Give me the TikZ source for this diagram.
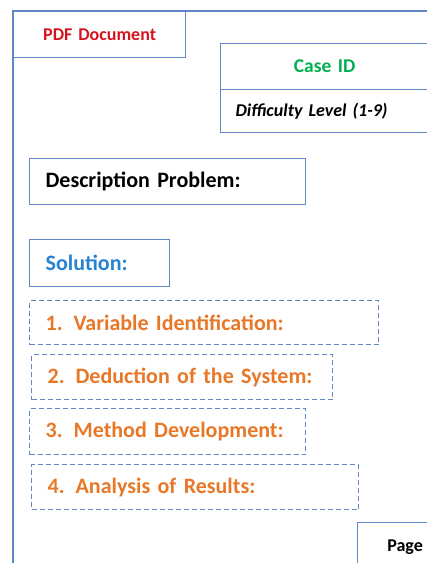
\documentclass[tikz,border=0pt]{standalone}
\usepackage{fontspec}
\setmainfont[WordSpace=0.7]{Carlito}
\usetikzlibrary{positioning}
\definecolor{frameblue}{RGB}{95,135,198}
\definecolor{pdfred}{RGB}{215,20,30}
\definecolor{casegreen}{RGB}{0,176,80}
\definecolor{solblue}{RGB}{40,130,210}
\definecolor{steporange}{RGB}{232,120,40}
\begin{document}
\begin{tikzpicture}[
        x=1pt, y=-1pt,
        box/.style={
            rectangle,
            anchor=north west,
            draw=frameblue,
            line width=1.2pt,
            inner xsep=16pt,
            inner ysep=0pt,
            align=left,
            font=\bfseries\fontsize{22}{26}\selectfont
        },
        stepbox/.style={
            box,
            dash pattern=on 5pt off 3pt,
            text=steporange
        },
        frame/.style={draw=frameblue, line width=1.2pt}
    ]

    \useasboundingbox (0,0) rectangle (427,563);
    \clip (0,0) rectangle (427,563);

    % Page outline
    \draw[frame] (13,575) -- (13,11) -- (440,11);

    % Nodes
    \node (pdf) [box, align=center, text=pdfred, text width=140pt, minimum height=46pt,
        font=\bfseries\fontsize{18}{21}\selectfont] at (13,11) {PDF Document};

    \node (caseid) [box, align=center, text=casegreen, text width=176pt, minimum height=46pt,
        font=\bfseries\fontsize{19.5}{23}\selectfont] at (220,43) {Case ID};

    \node (level) [box, inner xsep=15pt, text width=178pt, minimum height=43pt,
        font=\bfseries\itshape\fontsize{18}{21}\selectfont] at (220,89) {Difficulty Level (1-9)};

    \node (desc) [box, text width=244pt, minimum height=46pt] at (29,158) {Description Problem:};

    \node (sol) [box, text=solblue, text width=108pt, minimum height=47pt] at (29,239) {Solution:};

    \node (vars) [stepbox, text width=317pt, minimum height=44pt] at (29,300) {1. Variable Identification:};

    \node (system) [stepbox, text width=269pt, minimum height=45pt] at (31,354) {2. Deduction of the System:};

    \node (method) [stepbox, text width=244pt, minimum height=46pt] at (29,408) {3. Method Development:};

    \node (results) [stepbox, text width=295pt, minimum height=45pt] at (31,464) {4. Analysis of Results:};

    \node (page) [box, align=center, text width=63pt, minimum height=50pt,
        font=\bfseries\fontsize{18}{21}\selectfont] at (357,522) {Page};

\end{tikzpicture}
\end{document}
